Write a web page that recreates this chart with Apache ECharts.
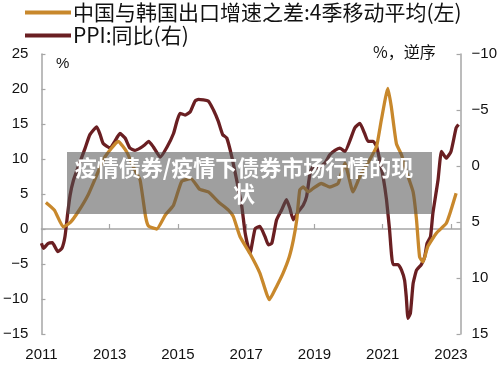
<!DOCTYPE html>
<html><head><meta charset="utf-8">
<script src="https://cdn.jsdelivr.net/npm/echarts@6/dist/echarts.min.js"></script>
<style>html,body{margin:0;padding:0;background:#fff}#c{width:500px;height:368px}</style>
</head><body><div id="c"></div>
<script>
// ---- data ----
const seriesNames = ['中国与韩国出口增速之差:4季移动平均(左)', 'PPI:同比(右)'];
const xTickLabels = [2011, 2013, 2015, 2017, 2019, 2021, 2023];
const leftTicks = [-15, -10, -5, 0, 5, 10, 15, 20, 25];
const rightTicks = [-10, -5, 0, 5, 10, 15];

const diffX = [2011.13,2011.38,2011.64,2011.84,2012.08,2012.37,2012.62,2012.86,2013.25,2013.5,2013.74,2013.89,2014.05,2014.14,2014.38,2014.63,2014.87,2015.11,2015.38,2015.63,2015.89,2016.18,2016.48,2016.62,2016.82,2017.11,2017.4,2017.68,2017.89,2018.08,2018.26,2018.38,2018.48,2018.57,2018.67,2018.82,2018.96,2019.2,2019.45,2019.69,2019.79,2019.89,2020.13,2020.33,2020.62,2020.82,2020.96,2021.15,2021.25,2021.4,2021.55,2021.69,2021.89,2021.99,2022.08,2022.18,2022.32,2022.57,2022.86,2023.0,2023.15];
const diffY = [3.8,2.7,0.3,0.9,2.5,4.9,7.7,10.3,12.5,11.0,8.4,7.0,1.8,0.4,0.0,2.0,3.4,6.8,7.2,5.7,5.3,3.9,2.7,1.8,-1.1,-3.5,-6.3,-10.1,-8.2,-6.3,-4.0,-1.6,1.3,5.6,6.0,5.3,5.8,6.5,6.0,6.5,8.0,9.4,5.3,7.5,9.9,11.8,15.6,20.1,17.5,12.2,10.6,8.2,5.3,1.3,-4.0,-4.7,-2.5,-0.6,0.8,2.7,5.1];

const ppiX = [2011.0,2011.06,2011.2,2011.32,2011.48,2011.6,2011.69,2011.77,2011.84,2011.94,2012.08,2012.28,2012.42,2012.62,2012.72,2012.81,2013.01,2013.15,2013.3,2013.45,2013.59,2013.74,2013.89,2014.03,2014.14,2014.28,2014.48,2014.68,2014.87,2014.97,2015.06,2015.21,2015.36,2015.5,2015.6,2015.89,2016.04,2016.18,2016.31,2016.43,2016.58,2016.72,2016.87,2016.97,2017.11,2017.26,2017.4,2017.55,2017.65,2017.75,2017.89,2018.04,2018.18,2018.28,2018.38,2018.52,2018.67,2018.77,2018.87,2018.96,2019.11,2019.3,2019.45,2019.6,2019.74,2019.89,2020.18,2020.33,2020.47,2020.57,2020.72,2020.82,2020.91,2021.01,2021.11,2021.2,2021.3,2021.45,2021.55,2021.64,2021.69,2021.74,2021.81,2021.89,2021.99,2022.13,2022.23,2022.3,2022.4,2022.47,2022.62,2022.72,2022.86,2023.0,2023.15,2023.22];
const ppiY = [6.9,7.35,6.9,6.85,7.65,7.35,6.3,4.2,2.6,1.25,0.06,-1.6,-2.8,-3.5,-2.8,-2.0,-1.6,-2.2,-2.9,-2.5,-1.6,-1.4,-1.6,-1.9,-2.2,-1.7,-0.8,-1.7,-2.9,-4.0,-4.7,-4.55,-4.85,-5.8,-5.95,-5.8,-5.0,-4.0,-2.8,-2.5,-0.8,1.25,3.6,6.0,7.8,5.6,5.4,6.3,7.05,6.9,4.8,3.9,3.0,3.8,4.8,4.1,3.5,2.7,0.65,0.06,0.2,-0.25,-1.0,-1.4,-1.6,-1.3,-3.4,-3.8,-2.9,-2.2,-2.2,-1.75,-0.55,0.95,3.0,5.7,8.8,8.8,9.3,10.2,11.7,13.6,13.15,10.5,9.3,8.8,8.1,6.9,6.3,4.2,1.25,-1.3,-0.7,-1.3,-3.4,-3.7];

const bannerText = '疫情债券/疫情下债券市场行情的现\n状';
// ---------------------------------------

const ORANGE = '#C8882C', DARK = '#6A1F22', AXIS = '#A6A6A6';
const numFont = 'Liberation Sans';
const cjk = 'Noto Sans CJK SC';
const fmtNum = v => String(v).replace('-', '\u2212');
const zip = (xs, ys) => xs.map((x, i) => [x, ys[i]]);

const chart = echarts.init(document.getElementById('c'), null, {renderer: 'canvas'});
chart.setOption({
  animation: false,
  backgroundColor: '#fff',
  grid: {left: 41, right: 39, top: 54, bottom: 34},
  legend: {
    orient: 'vertical', left: 25, top: 1, itemGap: 0, padding: 0,
    itemWidth: 46, itemHeight: 4, icon: 'rect',
    data: seriesNames,
    textStyle: {fontSize: 21, lineHeight: 23, color: '#111', fontFamily: cjk, padding: [0, 0, 0, -3]}
  },
  xAxis: [{
    type: 'value', min: 2011, max: 2023.28, position: 'bottom',
    axisLine: {show: true, onZero: true, onZeroAxisIndex: 0, lineStyle: {color: AXIS, width: 1.5}},
    axisTick: {show: true, inside: true, length: 5, lineStyle: {color: AXIS, width: 1.2}, customValues: xTickLabels.slice(1)},
    axisLabel: {show: false},
    splitLine: {show: false}
  }, {
    type: 'value', min: 2011, max: 2023.28, position: 'bottom',
    axisLine: {show: false, onZero: false},
    axisTick: {show: false},
    axisLabel: {show: true, customValues: xTickLabels, margin: 13, fontSize: 15, color: '#111', fontFamily: numFont, formatter: v => String(Math.round(v))},
    splitLine: {show: false}
  }],
  yAxis: [{
    type: 'value', min: -15, max: 25, interval: 5, position: 'left',
    axisLine: {show: true, onZero: false, lineStyle: {color: AXIS, width: 1.5}},
    axisTick: {show: true, inside: true, length: 4, lineStyle: {color: AXIS, width: 1.2}},
    axisLabel: {margin: 13, fontSize: 15, color: '#111', fontFamily: numFont, formatter: fmtNum, customValues: leftTicks},
    splitLine: {show: false}
  }, {
    type: 'value', min: -10, max: 15, interval: 5, inverse: true, position: 'right',
    axisLine: {show: true, onZero: false, lineStyle: {color: AXIS, width: 1.5}},
    axisTick: {show: true, inside: true, length: 4, lineStyle: {color: AXIS, width: 1.2}},
    axisLabel: {margin: 11, fontSize: 15, color: '#111', fontFamily: numFont, formatter: fmtNum, customValues: rightTicks},
    splitLine: {show: false}
  }],
  series: [{
    name: seriesNames[1], type: 'line', xAxisIndex: 0, yAxisIndex: 1,
    data: zip(ppiX, ppiY), showSymbol: false, smooth: 0.15,
    lineStyle: {color: DARK, width: 3.3}, itemStyle: {color: DARK}, z: 2
  }, {
    name: seriesNames[0], type: 'line', xAxisIndex: 0, yAxisIndex: 0,
    data: zip(diffX, diffY), showSymbol: false, smooth: 0.15,
    lineStyle: {color: ORANGE, width: 3.3}, itemStyle: {color: ORANGE}, z: 3
  }],
  graphic: [
    {type: 'text', left: 56, top: 56, style: {text: '%', fontSize: 15, fill: '#111', fontFamily: numFont}},
    {type: 'text', left: 373, top: 44, style: {text: '%，逆序', fontSize: 16, fill: '#111', fontFamily: cjk}},
    {type: 'rect', shape: {x: 67, y: 152, width: 365, height: 62}, style: {fill: 'rgba(80,80,80,0.55)'}, z: 100},
    {type: 'text', z: 101, x: 244, y: 155, style: {text: bannerText, align: 'center', verticalAlign: 'top', fontSize: 22, lineHeight: 26, fontWeight: 'bold', fill: '#fff', fontFamily: cjk}}
  ]
});
</script></body></html>
